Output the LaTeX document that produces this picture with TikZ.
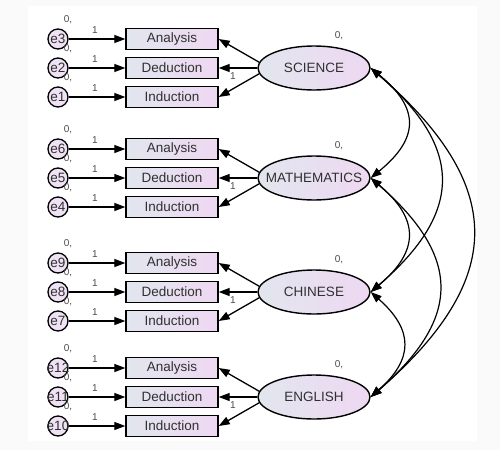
\documentclass[tikz,border=0pt]{standalone}
\usepackage{fontspec}
\setmainfont{Liberation Sans}
\usetikzlibrary{arrows.meta,shapes.geometric}
\definecolor{txt}{HTML}{303030}
\definecolor{lblue}{HTML}{E2E6EE}
\definecolor{lpink}{HTML}{EED8F2}
\definecolor{lcirc}{HTML}{EFE2F5}
\begin{document}
\begin{tikzpicture}[x=1pt,y=-1pt,
  tip/.style={-{Triangle[length=11pt,width=8pt]}, line width=1.3pt},
  cov/.style={{Triangle[length=11pt,width=8pt]}-{Triangle[length=11pt,width=8pt]}, line width=1.2pt},
  obs/.style={draw, line width=1.4pt, minimum width=92pt, minimum height=21pt, inner sep=0pt,
    left color=lblue, right color=lpink, font=\fontsize{13.5}{15}\selectfont, text=txt},
  lat/.style={ellipse, draw, line width=1.4pt, minimum width=112pt, minimum height=44pt, inner sep=0pt,
    left color=lblue, right color=lpink},
  lattext/.style={font=\fontsize{13.5}{15}\selectfont, text=txt, inner sep=0pt},
  err/.style={circle, draw, line width=1.3pt, minimum size=20pt, inner sep=0pt, fill=lcirc},
  errtext/.style={font=\fontsize{13.5}{15}\selectfont, text=txt, inner sep=0pt},
  small/.style={font=\fontsize{10}{11}\selectfont, text=black!70, inner sep=0pt}
]
\useasboundingbox (0,0) rectangle (500,450);
\fill[black!2] (0,0) rectangle (500,450);
\fill[white] (28,6) rectangle (477,441);

\foreach \g/\yc/\lab/\ea/\eb/\ec in {s/68/SCIENCE/3/2/1, m/178/MATHEMATICS/6/5/4, c/292/CHINESE/9/8/7, en/397/ENGLISH/12/11/10} {
  \node[lat, label={[lattext]center:\lab}] (\g) at (314,\yc) {};
  \node[small] (\g-z) at (339,\yc-32) {0,};
  \node[obs] (\g-a) at (172,\yc-29) {Analysis};
  \node[obs] (\g-d) at (172,\yc) {Deduction};
  \node[obs] (\g-i) at (172,\yc+29) {Induction};
  \node[err, label={[errtext]center:e\ea}] (e\ea) at (58,\yc-29) {};
  \node[err, label={[errtext]center:e\eb}] (e\eb) at (58,\yc) {};
  \node[err, label={[errtext]center:e\ec}] (e\ec) at (58,\yc+29) {};
  \node[small] (z\ea) at (68,\yc-48) {0,};
  \node[small] (z\eb) at (68,\yc-19) {0,};
  \node[small] (z\ec) at (68,\yc+10) {0,};
  \draw[tip] (e\ea) -- (\g-a);
  \draw[tip] (e\eb) -- (\g-d);
  \draw[tip] (e\ec) -- (\g-i);
  \node[small] (o\ea) at (95,\yc-38) {1};
  \node[small] (o\eb) at (95,\yc-9) {1};
  \node[small] (o\ec) at (95,\yc+20) {1};
  \draw[tip] (\g.174) -- (\g-a.east);
  \draw[tip] (\g.west) -- (\g-d.east);
  \draw[tip] (\g.186) -- (\g-i.east);
  \node[small] (\g-one) at (233,\yc+8) {1};
}

\draw[cov] (s.east) .. controls +(49,40) and +(49,-40) .. (m.east);
\draw[cov] (s.east) .. controls +(93,80) and +(93,-80) .. (c.east);
\draw[cov] (s.east) .. controls +(136,118) and +(136,-118) .. (en.east);
\draw[cov] (m.east) .. controls +(49,41) and +(49,-41) .. (c.east);
\draw[cov] (m.east) .. controls +(91,79) and +(91,-79) .. (en.east);
\draw[cov] (c.east) .. controls +(43,38) and +(43,-38) .. (en.east);
\end{tikzpicture}
\end{document}
